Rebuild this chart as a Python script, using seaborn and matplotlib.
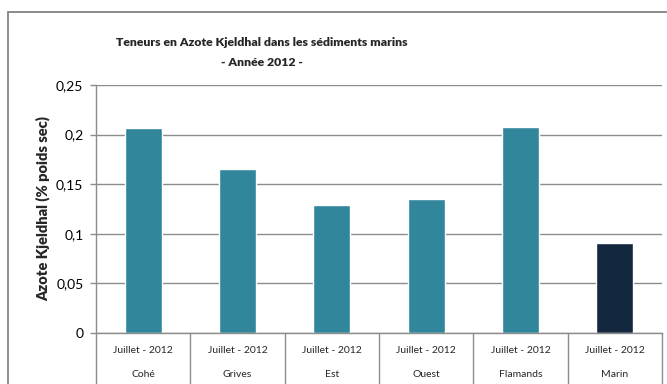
import matplotlib
matplotlib.use("Agg")
import matplotlib.pyplot as plt
from matplotlib.patches import Rectangle
import seaborn as sns
import pandas as pd

# Sampling stations and their Kjeldahl nitrogen content (% dry weight)
stations = ["Cohé", "Grives", "Est", "Ouest", "Flamands", "Marin"]
periode = ["Juillet - 2012"] * 6
azote = [0.207, 0.165, 0.129, 0.135, 0.208, 0.091]
couleurs = ["#31869B", "#31869B", "#31869B", "#31869B", "#31869B", "#13273F"]
yticks = [0, 0.05, 0.10, 0.15, 0.20, 0.25]
ytick_labels = ["0", "0,05", "0,1", "0,15", "0,2", "0,25"]

sns.set_theme(style="white")
plt.rcParams["font.family"] = ["Lato", "DejaVu Sans"]

W, H = 667, 384
fig = plt.figure(figsize=(W / 100, H / 100), dpi=100)
fig.patch.set_facecolor("white")

# Chart frame
fig.add_artist(Rectangle((8 / W, -0.1), 1.2, (H - 12) / H + 0.1, transform=fig.transFigure,
                         fill=False, edgecolor="#8C8C8C", linewidth=1.4))

left, right, bottom, top = 96, 662, 333, 85
ax = fig.add_axes([left / W, (H - bottom) / H, (right - left) / W, (bottom - top) / H])

df = pd.DataFrame({"station": stations, "azote": azote})
sns.barplot(data=df, x="station", y="azote", hue="station", palette=couleurs,
            width=0.39, legend=False, ax=ax, saturation=1)

ax.set_xlim(-0.5, len(stations) - 0.5)
ax.set_ylim(0, 0.25)
ax.set_yticks(yticks)
ax.set_yticklabels(ytick_labels, fontsize=10, color="#000000")
ax.yaxis.grid(True, color="#8C8C8C", linewidth=1)
ax.set_axisbelow(True)
ax.tick_params(axis="y", length=4, width=1, color="#8C8C8C", pad=5, left=True)
ax.tick_params(axis="x", length=0)
ax.set_xticks([])
ax.set_xlabel("")
ax.set_ylabel("Azote Kjeldhal (% poids sec)", fontsize=10.5, fontweight="heavy", labelpad=4)

for s in ["top", "right"]:
    ax.spines[s].set_visible(False)
for s in ["left", "bottom"]:
    ax.spines[s].set_color("#8C8C8C")
    ax.spines[s].set_linewidth(1)

# Two-level category axis with separators
trans = ax.get_xaxis_transform()
for i in range(len(stations) + 1):
    ax.plot([i - 0.5, i - 0.5], [0, -0.3], transform=trans, color="#8C8C8C",
            linewidth=1, clip_on=False)
for i, (p, s) in enumerate(zip(periode, stations)):
    ax.text(i, -0.072, p, transform=trans, ha="center", va="center", fontsize=7.5)
    ax.text(i, -0.166, s, transform=trans, ha="center", va="center", fontsize=7.5)

fig.text(262 / W, 1 - 43 / H, "Teneurs en Azote Kjeldhal dans les sédiments marins",
         ha="center", va="center", fontsize=8.8, fontweight="heavy")
fig.text(262 / W, 1 - 62 / H, "- Année 2012 -",
         ha="center", va="center", fontsize=8.8, fontweight="heavy")

fig.savefig("out.png", dpi=100)
